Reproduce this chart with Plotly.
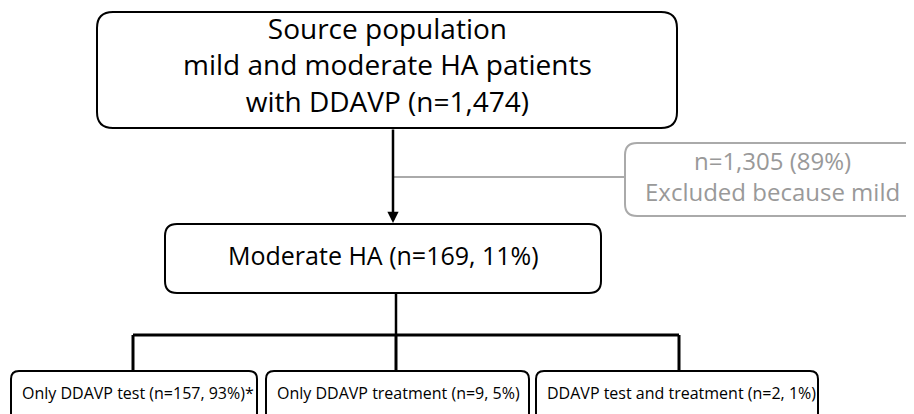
import plotly.graph_objects as go

# ---- text content ----
top_label = ["Source population", "mild and moderate HA patients", "with DDAVP (n=1,474)"]
excluded_label = ["n=1,305 (89%)", "Excluded because mild"]
middle_label = "Moderate HA (n=169, 11%)"
bottom_labels = ["Only DDAVP test (n=157, 93%)*",
                 "Only DDAVP treatment (n=9, 5%)",
                 "DDAVP test and treatment (n=2, 1%)"]

# ---- layout (pixel-like canvas) ----
W, H = 914, 414
OFF = 8  # browser body margin compensation
top_box = (97, 12, 677, 128)
excl_box = (625, 143, 924, 216)
mid_box = (165, 224, 601, 293)
bottom_boxes = [(11, 371, 257, 414), (266, 371, 529, 414), (536, 371, 818, 414)]
branch_x = [133, 396, 679]
branch_y = 335
arrow_x = 393
excl_line_y = 177

BLACK = "#000000"
GREY = "#aaaaaa"
GREY_TXT = "#999999"
FONT = "Open Sans, Noto Sans, sans-serif"


def rrect(box, r):
    x0, y0, x1, y1 = box
    return (f"M {x0+r},{y0} L {x1-r},{y0} Q {x1},{y0} {x1},{y0+r} "
            f"L {x1},{y1-r} Q {x1},{y1} {x1-r},{y1} L {x0+r},{y1} "
            f"Q {x0},{y1} {x0},{y1-r} L {x0},{y0+r} Q {x0},{y0} {x0+r},{y0} Z")


shapes = []
annotations = []

# boxes
shapes.append(dict(type="path", path=rrect(top_box, 16), xref="x", yref="y",
                   line=dict(color=BLACK, width=2)))
shapes.append(dict(type="path", path=rrect(excl_box, 12), xref="x", yref="y",
                   line=dict(color=GREY, width=2)))
shapes.append(dict(type="path", path=rrect(mid_box, 12), xref="x", yref="y",
                   line=dict(color=BLACK, width=2)))
for b in bottom_boxes:
    shapes.append(dict(type="path", path=rrect((b[0], b[1], b[2], b[3] + 10), 8),
                       xref="x", yref="y", line=dict(color=BLACK, width=2)))

# grey connector to excluded
shapes.append(dict(type="line", x0=arrow_x, x1=excl_box[0], y0=excl_line_y, y1=excl_line_y,
                   xref="x", yref="y", line=dict(color=GREY, width=2)))

# stem from middle box to branch line
shapes.append(dict(type="line", x0=branch_x[1], x1=branch_x[1], y0=mid_box[3], y1=branch_y,
                   xref="x", yref="y", line=dict(color=BLACK, width=2.5)))
shapes.append(dict(type="line", x0=branch_x[0], x1=branch_x[-1], y0=branch_y, y1=branch_y,
                   xref="x", yref="y", line=dict(color=BLACK, width=3)))
for bx in branch_x:
    shapes.append(dict(type="line", x0=bx, x1=bx, y0=branch_y, y1=bottom_boxes[0][1],
                       xref="x", yref="y", line=dict(color=BLACK, width=3)))

# arrow
annotations.append(dict(x=arrow_x, y=mid_box[1] - 1, ax=arrow_x, ay=top_box[3],
                        xref="x", yref="y", axref="x", ayref="y", text="",
                        showarrow=True, arrowhead=2, arrowsize=0.9, arrowwidth=2.5,
                        arrowcolor=BLACK, standoff=0))

# texts
annotations.append(dict(x=(top_box[0] + top_box[2]) / 2, y=64,
                        xref="x", yref="y", text="<br>".join(top_label), showarrow=False,
                        font=dict(family=FONT, size=28, color=BLACK), align="center"))
annotations.append(dict(x=772, y=175.5,
                        xref="x", yref="y", text="<br>".join(excluded_label), showarrow=False,
                        font=dict(family=FONT, size=24, color=GREY_TXT), align="center"))
annotations.append(dict(x=383, y=255,
                        xref="x", yref="y", text=middle_label, showarrow=False,
                        font=dict(family=FONT, size=25, color=BLACK)))
for b, lab in zip(bottom_boxes, bottom_labels):
    annotations.append(dict(x=b[0] + 9, y=(b[1] + b[3]) / 2, xref="x", yref="y",
                            text=lab, showarrow=False, xanchor="left",
                            font=dict(family=FONT, size=16, color=BLACK)))

fig = go.Figure()
fig.update_layout(
    width=W, height=H,
    margin=dict(l=0, r=0, t=0, b=0),
    paper_bgcolor="white", plot_bgcolor="white",
    xaxis=dict(range=[OFF, W + OFF], visible=False, fixedrange=True),
    yaxis=dict(range=[H + OFF, OFF], visible=False, fixedrange=True),
    shapes=shapes, annotations=annotations, showlegend=False,
)
fig.write_html("out.html")
